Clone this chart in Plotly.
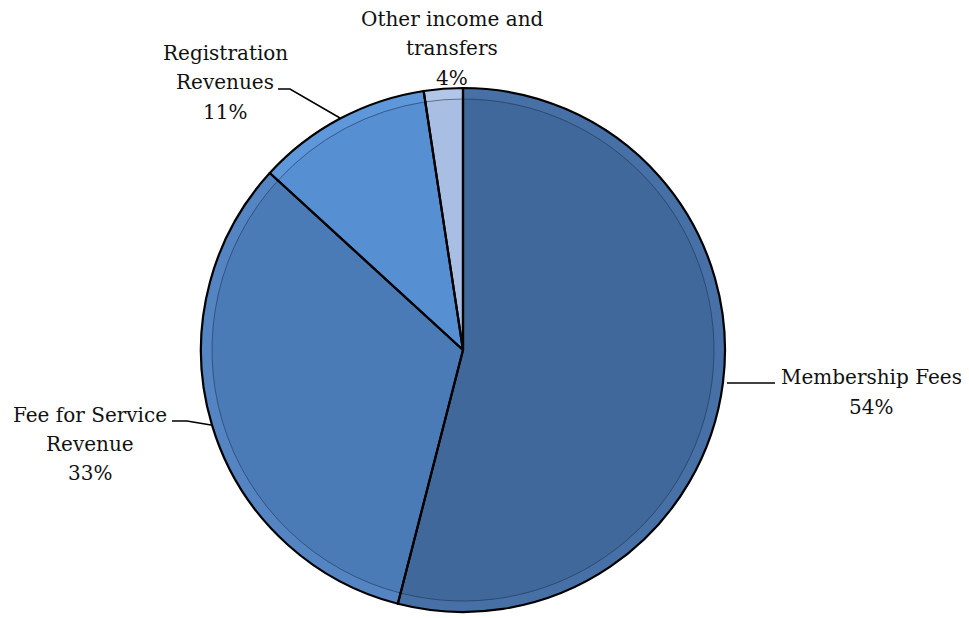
import plotly.graph_objects as go

# ---- data ----
categories = ["Membership Fees", "Fee for Service Revenue", "Registration Revenues", "Other income and transfers"]
shares = [54.0, 32.8, 10.8, 2.4]          # slice sizes
pct_labels = [54, 33, 11, 4]              # percentages printed on the chart
label_lines = [["Membership Fees"], ["Fee for Service", "Revenue"],
               ["Registration", "Revenues"], ["Other income and", "transfers"]]

band_colors = ["#4770A6", "#5485C2", "#5E98DA", "#B2C6E8"]
main_colors = ["#40689B", "#4B7BB6", "#568FD2", "#A8BEE3"]

W, H = 969, 618
OFF = 8  # page body margin compensation
def px(x): return (x - OFF) / W
def py(y): return 1 - (y - OFF) / H

CX, CY, R, RI = 463, 350, 262, 251

fig = go.Figure()
common = dict(labels=categories, values=shares, sort=False, direction="clockwise",
              rotation=0, textinfo="none", hoverinfo="label+percent", showlegend=False)
# outer lighter band
fig.add_trace(go.Pie(**common,
    domain=dict(x=[px(CX - R), px(CX + R)], y=[py(CY + R), py(CY - R)]),
    marker=dict(colors=band_colors, line=dict(width=0))))
# inner body with subtle bevel edge
fig.add_trace(go.Pie(**common,
    domain=dict(x=[px(CX - RI), px(CX + RI)], y=[py(CY + RI), py(CY - RI)]),
    marker=dict(colors=main_colors, line=dict(color="rgba(25,45,75,0.55)", width=1))))
# black outline
fig.add_trace(go.Pie(**common,
    domain=dict(x=[px(CX - R), px(CX + R)], y=[py(CY + R), py(CY - R)]),
    marker=dict(colors=["rgba(0,0,0,0)"] * 4, line=dict(color="#000000", width=2.2))))

font = dict(family="DejaVu Serif", size=20, color="#111111")
# label block: centre x, y of first line, line pitch (px)
label_pos = [(871, 377, 30), (90, 415, 29), (225, 53, 29.5), (452, 19, 29.5)]
for lines, pct, (x, y0, step) in zip(label_lines, pct_labels, label_pos):
    for i, t in enumerate(lines + [f"{pct}%"]):
        fig.add_annotation(x=px(x), y=py(y0 + i * step), xref="paper", yref="paper",
                           text=t, showarrow=False, font=font,
                           xanchor="center", yanchor="middle")

leaders = [
    [(727, 383), (775, 383)],
    [(172, 421), (187, 421), (211, 425)],
    [(278, 89), (290, 89), (340, 118)],
]
for pts in leaders:
    path = "M " + " L ".join(f"{px(a):.5f},{py(b):.5f}" for a, b in pts)
    fig.add_shape(type="path", path=path, xref="paper", yref="paper",
                  line=dict(color="#000000", width=1.5))

fig.update_layout(width=W, height=H, margin=dict(l=0, r=0, t=0, b=0),
                  paper_bgcolor="white", plot_bgcolor="white")
fig.write_html("out.html")
